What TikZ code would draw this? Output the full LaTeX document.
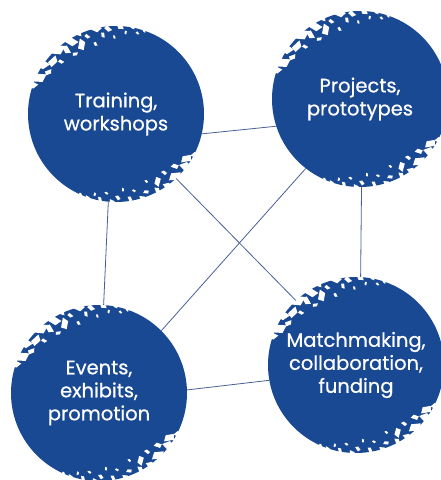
\documentclass[tikz,border=0pt]{standalone}
\usepackage{fontspec}
\setmainfont{Poppins}[FakeBold=0.6]
\usetikzlibrary{arrows}
\definecolor{hubblue}{RGB}{26,73,148}
\definecolor{linkblue}{RGB}{72,96,150}

% white chips along the top-left and bottom edge of a circle
\newcommand\roughedge[1]{%
\begin{scope}[shift={(#1)},y=1pt]
\foreach \a/\r/\s/\t in {160/89/6/10,154/86/8/40,148/80/4/70,145/90/8/20,140/83/6/100,
  136/76/3/30,132/89/9/60,127/81/5/10,124/73/3/80,121/86/7/45,117/78/6/160,114/90/5/0,
  110/83/3/50,106/73/2.5/30,103/89/6/70,99/80/3/15,95/86/4/60,91/77/2/20,87/89/5/40,
  83/82/2/10,79/90/4/30,75/84/2/70,71/89/3/20,66/90/2/50,
  -28/90/5/20,-33/84/6/60,-38/89/8/10,-42/79/4/40,-47/87/7/70,-51/76/3/30,-55/90/6/20,
  -58/80/5/150,-62/87/4/10,-66/74/2/40,-69/84/3/80,-73/90/5/20,-77/79/2/60,-81/86/3/30,
  -85/76/2/10,-89/84/3/50,-93/90/5/20,-97/80/2/70,-101/87/3/40,-105/83/2/10,-109/90/4/30,
  -114/88/2/60}
  \fill[white,shift={(\a:\r)},rotate=\a+\t] (-\s,0) -- (0.6*\s,-0.5*\s) -- (\s,0.4*\s) -- (-0.3*\s,0.8*\s) -- cycle;
\end{scope}}

\begin{document}
\begin{tikzpicture}[x=1pt,y=-1pt]
\tikzstyle{hub}=[circle, fill=hubblue, minimum size=176pt, inner sep=0pt, text=white,
  align=center, font=\fontsize{19.5}{23}\selectfont]
\tikzstyle{link}=[draw=linkblue, line width=.8pt]
\useasboundingbox (0,0) rectangle (441,480);
\draw (116,114) node (tr) [hub] {Training,\\workshops};
\draw (360,99) node (pr) [hub] {Projects,\\prototypes};
\draw (99,393) node (ev) [hub] {Events,\\exhibits,\\promotion};
\draw (356,365) node (mm) [hub] {Matchmaking,\\collaboration,\\funding};
\roughedge{tr}
\roughedge{pr}
\roughedge{ev}
\roughedge{mm}
\draw[link] (tr.-13.6) -- (pr.198.4);
\draw[link] (tr.-95) -- (ev.87);
\draw[link] (tr.-47) -- (mm.133.5);
\draw[link] (pr.232) -- (ev.45);
\draw[link] (pr.-89) -- (mm.87);
\draw[link] (ev.2.6) -- (mm.190);
\end{tikzpicture}
\end{document}
